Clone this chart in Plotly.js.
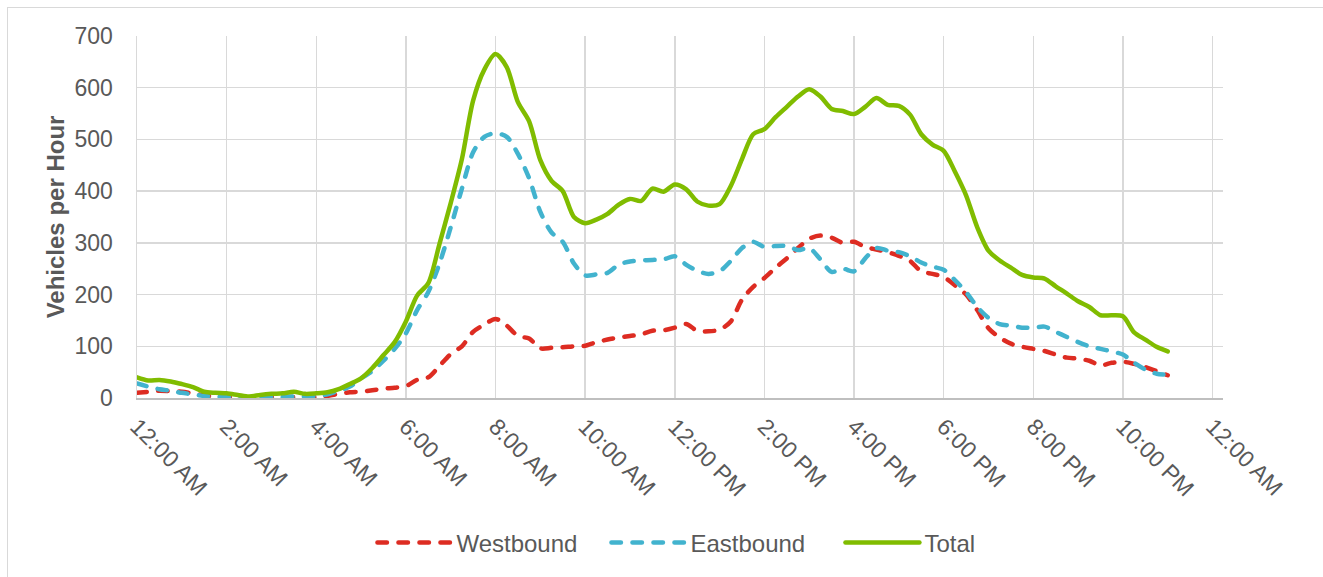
<!DOCTYPE html>
<html>
<head>
<meta charset="utf-8">
<script src="https://cdn.plot.ly/plotly-3.0.1.min.js"></script>
<style>
  html, body { margin: 0; padding: 0; background: #ffffff; }
  #frame { position: absolute; left: 7px; top: 7px; width: 1330px; height: 600px;
           border-top: 1px solid #d9d9d9; border-left: 1px solid #d9d9d9; }
  #chart { position: absolute; left: 0; top: 0; width: 1323px; height: 577px; }
  .js-plotly-plot .scatterlayer path.js-line,
  .js-plotly-plot .legend path.js-line { stroke-linecap: round !important; }
</style>
</head>
<body>
<div id="frame"></div>
<div id="chart"></div>
<script>
// 15-minute time stamps, 12:00 AM to 11:00 PM
const times = [
  "00:00","00:15","00:30","00:45","01:00","01:15","01:30","01:45",
  "02:00","02:15","02:30","02:45","03:00","03:15","03:30","03:45",
  "04:00","04:15","04:30","04:45","05:00","05:15","05:30","05:45",
  "06:00","06:15","06:30","06:45","07:00","07:15","07:30","07:45",
  "08:00","08:15","08:30","08:45","09:00","09:15","09:30","09:45",
  "10:00","10:15","10:30","10:45","11:00","11:15","11:30","11:45",
  "12:00","12:15","12:30","12:45","13:00","13:15","13:30","13:45",
  "14:00","14:15","14:30","14:45","15:00","15:15","15:30","15:45",
  "16:00","16:15","16:30","16:45","17:00","17:15","17:30","17:45",
  "18:00","18:15","18:30","18:45","19:00","19:15","19:30","19:45",
  "20:00","20:15","20:30","20:45","21:00","21:15","21:30","21:45",
  "22:00","22:15","22:30","22:45","23:00"
];

const westbound = [
  10,12,14,13,12,9,5,3,
  2,1,0,1,2,2,2,1,
  2,4,8,11,12,15,18,20,
  23,35,40,62,85,100,128,142,
  153,140,120,115,96,97,98,100,
  101,108,113,117,120,123,130,131,
  136,143,130,129,132,148,190,215,
  232,252,270,290,308,314,310,300,
  302,292,287,282,275,265,245,240,
  234,218,200,170,135,117,105,99,
  95,91,84,78,76,72,63,68,
  70,66,60,52,44
];

const eastbound = [
  28,22,17,14,10,7,4,3,
  2,1,0,1,1,2,3,3,
  4,7,14,22,38,52,72,95,
  125,170,205,260,330,405,475,505,
  512,505,472,425,360,320,302,260,
  237,239,242,258,264,266,267,268,
  274,258,246,240,245,265,290,302,
  292,294,294,286,290,268,244,250,
  245,270,290,285,282,274,262,254,
  248,228,205,176,155,143,140,136,
  136,138,128,118,108,100,95,90,
  84,68,55,47,45
];

const total = [
  40,34,35,32,27,21,12,10,
  9,6,3,6,8,9,12,8,
  9,11,17,27,38,58,83,108,
  148,198,222,298,377,462,575,635,
  665,640,572,535,460,420,400,350,
  338,345,356,374,385,381,405,399,
  413,404,380,372,375,410,462,510,
  520,543,563,583,597,583,559,555,
  549,563,580,567,565,548,510,490,
  478,438,392,330,285,266,252,238,
  233,231,216,202,187,176,160,160,
  158,127,113,99,90
];

const seriesNames = ["Westbound", "Eastbound", "Total"];
const yTickVals = [0,100,200,300,400,500,600,700];

const day = "2000-01-01 ";
const xs = times.map(t => day + t);

const textColor = "#595959";
const fontFam = "Liberation Sans, Arial, sans-serif";
const dashPattern = "9.5px,11.5px";

const traces = [
  { x: xs, y: westbound, name: seriesNames[0], type: "scatter", mode: "lines",
    line: { color: "#DD2C22", width: 4.5, dash: dashPattern, shape: "spline", smoothing: 0.8 } },
  { x: xs, y: eastbound, name: seriesNames[1], type: "scatter", mode: "lines",
    line: { color: "#42B3CE", width: 4.5, dash: dashPattern, shape: "spline", smoothing: 0.8 } },
  { x: xs, y: total, name: seriesNames[2], type: "scatter", mode: "lines",
    line: { color: "#80BC00", width: 4.5, shape: "spline", smoothing: 0.8 } }
];

const layout = {
  width: 1323, height: 577,
  margin: { l: 137, r: 100, t: 36, b: 177 },
  paper_bgcolor: "rgba(0,0,0,0)",
  plot_bgcolor: "rgba(0,0,0,0)",
  font: { family: fontFam, color: textColor, size: 23 },
  showlegend: true,
  hovermode: false,
  xaxis: {
    type: "date",
    range: ["2000-01-01 00:00", "2000-01-02 00:14"],
    tick0: "2000-01-01 00:00",
    dtick: 7200000,
    tickformat: "%-I:%M %p",
    tickangle: 45,
    tickfont: { size: 23, color: textColor, family: fontFam },
    showgrid: true, gridcolor: "#d9d9d9", gridwidth: 1.5,
    showline: true, linecolor: "#bfbfbf", linewidth: 2,
    zeroline: false, ticks: "",
    ticklabelstandoff: 4,
    fixedrange: true
  },
  yaxis: {
    range: [0, 700],
    tickvals: yTickVals,
    tickfont: { size: 23, color: textColor, family: fontFam },
    showgrid: true, gridcolor: "#d9d9d9", gridwidth: 1.5,
    showline: true, linecolor: "#d9d9d9", linewidth: 1.5,
    zeroline: false, ticks: "",
    ticklabelstandoff: 18,
    title: { text: "Vehicles per Hour", standoff: 3,
             font: { size: 24, color: textColor, family: fontFam, weight: "bold" } },
    fixedrange: true
  },
  legend: {
    orientation: "h",
    x: 0.54, xanchor: "center",
    y: -0.4, yanchor: "middle",
    font: { size: 24, color: textColor, family: fontFam },
    itemwidth: 74,
    entrywidth: 145,
    bgcolor: "rgba(0,0,0,0)"
  }
};

Plotly.newPlot("chart", traces, layout, { staticPlot: true, displayModeBar: false }).then(function () {
  document.querySelectorAll("#chart path.js-line").forEach(function (p) {
    p.style.strokeLinecap = "round";
  });
});
</script>
</body>
</html>
